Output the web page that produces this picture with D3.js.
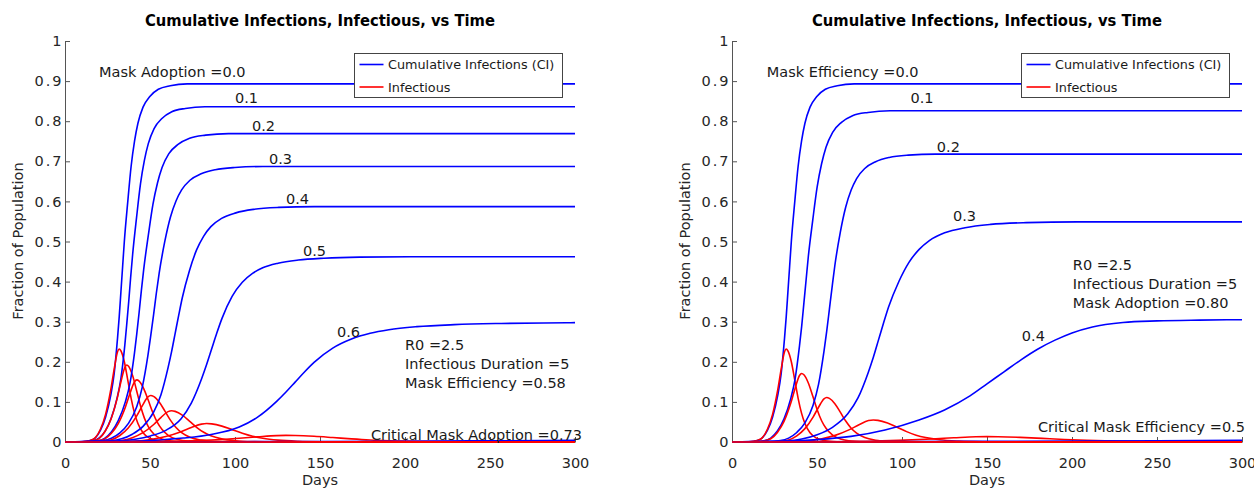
<!DOCTYPE html>
<html>
<head>
<meta charset="utf-8">
<script src="https://cdn.jsdelivr.net/npm/d3@7/dist/d3.min.js"></script>
<style>
  body { margin: 0; background: #fff; }
  svg text { font-family: "DejaVu Sans", sans-serif; }
</style>
</head>
<body>
<div id="chart"></div>
<script>
// ---- data: [day, fraction] ----
var dayTicks = [0, 50, 100, 150, 200, 250, 300];
var fracTicks = [0, 0.1, 0.2, 0.3, 0.4, 0.5, 0.6, 0.7, 0.8, 0.9, 1];

// no masks (same run in both panels)
var noMaskCI = [[0,0],[9.9,0.0009],[14.9,0.0036],[17.9,0.0107],[20.9,0.0295],[23.9,0.0625],[26.9,0.1161],[28.9,0.1697],[30.9,0.259],[31.9,0.3126],[32.9,0.3751],[33.9,0.4376],[34.9,0.5001],[36.9,0.5983],[38.9,0.6876],[40.9,0.7501],[42.9,0.7948],[45.9,0.835],[49.9,0.8617],[54.9,0.8796],[61.9,0.8885],[71.9,0.893],[300,0.893]];
var noMaskInf = [[0,0],[9.9,0.0007],[14.9,0.0039],[17.9,0.0109],[20.9,0.0325],[23.9,0.0696],[26.9,0.13],[28.9,0.181],[30.9,0.225],[31.9,0.232],[32.9,0.227],[34.9,0.2],[36.9,0.155],[38.9,0.109],[40.9,0.072],[42.9,0.046],[45.9,0.023],[49.9,0.0093],[54.9,0.003],[61.9,0.0007],[71.9,0.0001],[300,0]];

// left panel: mask adoption sweep
var adoptionLabels = ['0.0', '0.1', '0.2', '0.3', '0.4', '0.5', '0.6', '0.7'];
var adoptionCI = [
  noMaskCI,
  [[0,0],[11,0.0008],[16.8,0.0033],[20.2,0.01],[23.7,0.0276],[27.1,0.0585],[30.6,0.1087],[32.9,0.1588],[35.2,0.2424],[36.3,0.2926],[37.5,0.3511],[38.6,0.4096],[39.8,0.4682],[42.1,0.5601],[44.4,0.6437],[46.7,0.7022],[49,0.744],[52.4,0.7817],[57,0.8067],[62.8,0.8235],[70.8,0.8318],[82.3,0.836],[300,0.836]],
  [[0,0],[12.5,0.0008],[19.3,0.0031],[23.3,0.0092],[27.4,0.0254],[31.4,0.0538],[35.5,0.1],[38.2,0.1461],[40.9,0.223],[42.2,0.2692],[43.6,0.323],[44.9,0.3768],[46.3,0.4306],[49,0.5152],[51.7,0.5921],[54.4,0.646],[57.1,0.6844],[61.1,0.719],[66.5,0.7421],[73.3,0.7575],[82.7,0.7652],[96.2,0.769],[300,0.769]],
  [[0,0],[14.1,0.001],[22.4,0.0034],[27.3,0.0093],[32.3,0.0227],[37.2,0.0457],[42.2,0.0879],[45.5,0.1374],[48.8,0.2164],[50.4,0.2638],[52.1,0.317],[53.7,0.3703],[55.4,0.4211],[58.7,0.5001],[62,0.5606],[65.3,0.6011],[68.6,0.6286],[73.5,0.6527],[80.1,0.6688],[88.4,0.6791],[99.9,0.6846],[116.4,0.687],[300,0.687]],
  [[0,0],[16.5,0.0009],[27,0.0029],[33.3,0.0079],[39.6,0.0194],[45.9,0.039],[52.2,0.0751],[56.4,0.1174],[60.6,0.1849],[62.7,0.2254],[64.8,0.2709],[66.9,0.3164],[69,0.3598],[73.2,0.4273],[77.4,0.479],[81.6,0.5136],[85.8,0.5371],[92.1,0.5577],[100.5,0.5714],[111,0.5802],[125.7,0.585],[146.7,0.587],[300,0.587]],
  [[0,0],[17.3,0.0009],[32.3,0.0028],[41.3,0.0069],[50.3,0.0152],[59.3,0.0291],[68.3,0.0582],[74.3,0.097],[80.3,0.1571],[83.3,0.1931],[86.3,0.2324],[89.3,0.2717],[92.3,0.3077],[98.3,0.3631],[104.3,0.3982],[110.3,0.4204],[116.3,0.4343],[125.3,0.4458],[137.3,0.4537],[152.3,0.4583],[173.3,0.4611],[203.3,0.462],[300,0.462]],
  [[0,0],[9,0.0006],[36.5,0.0018],[53,0.0045],[69.5,0.0098],[86,0.0188],[102.5,0.0375],[113.5,0.0626],[124.5,0.1013],[130,0.1246],[135.5,0.1499],[141,0.1752],[146.5,0.1985],[157.5,0.2342],[168.5,0.2569],[179.5,0.2712],[190.5,0.2801],[207,0.2876],[229,0.2926],[256.5,0.2956],[295,0.2974],[300,0.2976]],
  [[0,0],[100,0.0008],[200,0.002],[300,0.004]]
];
var adoptionInf = [
  noMaskInf,
  [[0,0],[11,0.0006],[16.7,0.0033],[20.2,0.009],[23.6,0.0269],[27.1,0.0576],[30.6,0.1075],[32.9,0.1498],[35.2,0.1862],[36.3,0.192],[37.5,0.1882],[39.8,0.1651],[42.1,0.1286],[44.4,0.0902],[46.7,0.0595],[49,0.0384],[52.4,0.0192],[57,0.0077],[62.8,0.0025],[70.8,0.0006],[82.3,0.0001],[300,0]],
  [[0,0],[12.5,0.0005],[19.2,0.0026],[23.3,0.0073],[27.3,0.0217],[31.4,0.0465],[35.5,0.0868],[38.2,0.1209],[40.9,0.1504],[42.2,0.155],[43.6,0.1519],[46.3,0.1333],[49,0.1039],[51.7,0.0729],[54.4,0.0481],[57.1,0.031],[61.1,0.0155],[66.5,0.0062],[73.3,0.002],[82.7,0.0005],[96.2,0.0001],[300,0]],
  [[0,0],[14.1,0.0003],[22.4,0.002],[27.3,0.0055],[32.3,0.0162],[37.2,0.0348],[42.2,0.065],[45.5,0.0905],[48.8,0.1125],[50.4,0.116],[52.1,0.1137],[55.4,0.0998],[58.7,0.0777],[62,0.0545],[65.3,0.036],[68.6,0.0232],[73.5,0.0116],[80.1,0.0046],[88.4,0.0015],[99.9,0.0003],[116.4,0.0001],[300,0]],
  [[0,0],[16.5,0.0002],[27,0.0013],[33.3,0.0037],[39.6,0.0109],[45.9,0.0234],[52.2,0.0437],[56.4,0.0608],[60.6,0.0757],[62.7,0.078],[64.8,0.0764],[69,0.0671],[73.2,0.0523],[77.4,0.0367],[81.6,0.0242],[85.8,0.0156],[92.1,0.0078],[100.5,0.0031],[111,0.001],[125.7,0.0002],[146.7,0],[300,0]],
  [[0,0],[17.3,0.0001],[32.3,0.0008],[41.3,0.0022],[50.3,0.0064],[59.3,0.0138],[68.3,0.0258],[74.3,0.0359],[80.3,0.0446],[83.3,0.046],[86.3,0.0451],[92.3,0.0396],[98.3,0.0308],[104.3,0.0216],[110.3,0.0143],[116.3,0.0092],[125.3,0.0046],[137.3,0.0018],[152.3,0.0006],[173.3,0.0001],[203.3,0],[300,0]],
  [[0,0],[36.5,0.0003],[53,0.0008],[69.5,0.0023],[86,0.005],[102.5,0.0092],[113.5,0.0129],[124.5,0.016],[130,0.0165],[135.5,0.0162],[146.5,0.0142],[157.5,0.0111],[168.5,0.0078],[179.5,0.0051],[190.5,0.0033],[207,0.0017],[229,0.0007],[256.5,0.0002],[300,0.00005]],
  [[0,0],[150,0.0002],[300,0.0004]]
];

// right panel: mask efficiency sweep
var efficiencyLabels = ['0.0', '0.1', '0.2', '0.3', '0.4', '0.5'];
var efficiencyCI = [
  noMaskCI,
  [[0,0],[12.4,0.0008],[18.9,0.0033],[22.8,0.0099],[26.7,0.0273],[30.6,0.0578],[34.5,0.1074],[37.1,0.1569],[39.7,0.2395],[41,0.2891],[42.3,0.3469],[43.6,0.4047],[44.9,0.4626],[47.5,0.5534],[50.1,0.636],[52.7,0.6938],[55.3,0.7351],[59.2,0.7723],[64.4,0.7971],[70.9,0.8136],[80,0.8219],[93,0.826],[300,0.826]],
  [[0,0],[20.5,0.0011],[28.5,0.0036],[33.3,0.0097],[38.1,0.0237],[42.9,0.0477],[47.7,0.0919],[50.9,0.1436],[54.1,0.2262],[55.7,0.2757],[57.3,0.3314],[58.9,0.387],[60.5,0.4401],[63.7,0.5227],[66.9,0.5859],[70.1,0.6283],[73.3,0.657],[78.1,0.6821],[84.5,0.699],[92.5,0.7097],[103.7,0.7155],[119.7,0.718],[300,0.718]],
  [[0,0],[17.1,0.0008],[32.1,0.0027],[41.1,0.0074],[50.1,0.0181],[59.1,0.0365],[68.1,0.0703],[74.1,0.1098],[80.1,0.1729],[83.1,0.2108],[86.1,0.2534],[89.1,0.2959],[92.1,0.3365],[98.1,0.3997],[104.1,0.448],[110.1,0.4804],[116.1,0.5023],[125.1,0.5216],[137.1,0.5345],[152.1,0.5427],[173.1,0.5471],[203.1,0.549],[300,0.549]],
  [[0,0],[30,0.002],[50,0.006],[70,0.014],[90,0.03],[110,0.055],[125,0.08],[140,0.115],[150,0.145],[160,0.175],[170,0.205],[180,0.232],[190,0.254],[200,0.272],[212,0.287],[230,0.298],[250,0.302],[275,0.304],[300,0.305]],
  [[0,0],[100,0.001],[200,0.0025],[300,0.004]]
];
var efficiencyInf = [
  noMaskInf,
  [[0,0],[12.4,0.0005],[18.9,0.0029],[22.8,0.008],[26.7,0.0239],[30.6,0.0513],[34.5,0.0958],[37.1,0.1334],[39.7,0.1659],[41,0.171],[42.3,0.1676],[44.9,0.1471],[47.5,0.1146],[50.1,0.0804],[52.7,0.053],[55.3,0.0342],[59.2,0.0171],[64.4,0.0068],[70.9,0.0022],[80,0.0005],[93,0.0001],[300,0]],
  [[0,0],[20.5,0.0003],[28.5,0.0019],[33.3,0.0052],[38.1,0.0155],[42.9,0.0333],[47.7,0.0622],[50.9,0.0866],[54.1,0.1077],[55.7,0.111],[57.3,0.1088],[60.5,0.0955],[63.7,0.0744],[66.9,0.0522],[70.1,0.0344],[73.3,0.0222],[78.1,0.0111],[84.5,0.0044],[92.5,0.0014],[103.7,0.0003],[119.7,0.0001],[300,0]],
  [[0,0],[21.5,0.0002],[35.5,0.0009],[43.9,0.0026],[52.3,0.0077],[60.7,0.0165],[69.1,0.0308],[74.7,0.0429],[80.3,0.0534],[83.1,0.055],[85.9,0.0539],[91.5,0.0473],[97.1,0.0369],[102.7,0.0259],[108.3,0.0171],[113.9,0.011],[122.3,0.0055],[133.5,0.0022],[147.5,0.0007],[167.1,0.0002],[195.1,0],[300,0]],
  [[0,0],[39.5,0.0002],[59,0.0006],[78.5,0.0019],[98,0.0041],[117.5,0.0076],[130.5,0.0105],[143.5,0.0131],[150,0.0135],[156.5,0.0132],[169.5,0.0116],[182.5,0.009],[195.5,0.0063],[208.5,0.0042],[221.5,0.0027],[241,0.0014],[267,0.0005],[300,0.0002]],
  [[0,0],[150,0.0002],[300,0.0003]]
];

var legendLabels = ['Cumulative Infections (CI)', 'Infectious'];
var titleText = 'Cumulative Infections, Infectious, vs Time';

class MaskPanel {
  constructor(svg, opts) {
    this.svg = svg;
    this.opts = opts;
    this.x = d3.scaleLinear().domain([0, 300]).range([opts.left, opts.right]);
    this.y = d3.scaleLinear().domain([0, 1]).range([442, 41]);
  }

  render() {
    var _self = this;
    var o = _self.opts;
    var g = _self.svg.append('g');

    var xAxis = d3.axisBottom(_self.x).tickValues(dayTicks)
      .tickSizeInner(-5).tickSizeOuter(0).tickPadding(15.5)
      .tickFormat(d3.format('d'));
    var yAxis = d3.axisLeft(_self.y).tickValues(fracTicks)
      .tickSizeInner(-5).tickSizeOuter(0).tickPadding(1.5)
      .tickFormat(function (d) { return (d === 0 || d === 1) ? String(d) : d.toFixed(1); });

    var gx = g.append('g').attr('transform', 'translate(0,442)').call(xAxis);
    var gy = g.append('g').attr('transform', 'translate(' + o.left + ',0)').call(yAxis);
    [gx, gy].forEach(function (ax) {
      ax.attr('font-family', null).attr('font-size', null);
      ax.selectAll('path, line').attr('stroke', '#555');
      ax.selectAll('text').attr('fill', '#262626').style('font-size', '14.5px');
    });
    // y labels in the picture run a little wider
    gy.selectAll('text').style('letter-spacing', '2px');

    // curves, CI then infectious for each run
    var line = d3.line()
      .x(function (d) { return _self.x(d[0]); })
      .y(function (d) { return _self.y(d[1]); })
      .curve(d3.curveMonotoneX);
    o.ci.forEach(function (c, i) {
      g.append('path').attr('d', line(c)).attr('fill', 'none')
        .attr('stroke', '#0000ff').attr('stroke-width', 1.6);
      g.append('path').attr('d', line(o.inf[i])).attr('fill', 'none')
        .attr('stroke', '#ff0000').attr('stroke-width', 1.6);
    });

    // annotations
    o.notes.forEach(function (n) {
      g.append('text').attr('x', _self.x(n.day)).attr('y', _self.y(n.val))
        .attr('fill', '#1a1a1a').style('font-size', '14.5px').text(n.text);
    });

    // title + axis labels
    var cx = (o.left + o.right) / 2;
    g.append('text').attr('x', cx).attr('y', 26).attr('text-anchor', 'middle')
      .attr('font-weight', 'bold').style('font-size', '16px')
      .attr('textLength', 350).attr('lengthAdjust', 'spacingAndGlyphs')
      .text(titleText);
    g.append('text').attr('x', cx).attr('y', 485).attr('text-anchor', 'middle')
      .attr('fill', '#262626').style('font-size', '14.5px').text('Days');
    g.append('text').attr('transform', 'translate(' + (o.left - 42) + ',241) rotate(-90)')
      .attr('text-anchor', 'middle').attr('fill', '#262626').style('font-size', '14.5px')
      .text('Fraction of Population');

    // legend
    var lx = o.right - 220.5, ly = 53.5;
    var leg = g.append('g');
    leg.append('rect').attr('x', lx).attr('y', ly).attr('width', 208).attr('height', 44)
      .attr('fill', '#fff').attr('stroke', '#444').attr('stroke-width', 1);
    ['#0000ff', '#ff0000'].forEach(function (col, i) {
      var yy = ly + 11 + i * 22.5;
      leg.append('line').attr('x1', lx + 5).attr('x2', lx + 29).attr('y1', yy).attr('y2', yy)
        .attr('stroke', col).attr('stroke-width', 1.6);
      leg.append('text').attr('x', lx + 33.5).attr('y', yy + 4.5).attr('fill', '#1a1a1a')
        .style('font-size', '12.8px').text(legendLabels[i]);
    });
  }
}

var svg = d3.select('#chart').append('svg').attr('width', 1254).attr('height', 489);

var leftNotes = [
  { text: 'Mask Adoption =' + adoptionLabels[0], day: 20, val: 0.909 },
  { text: adoptionLabels[1], day: 100, val: 0.845 },
  { text: adoptionLabels[2], day: 110, val: 0.776 },
  { text: adoptionLabels[3], day: 120, val: 0.693 },
  { text: adoptionLabels[4], day: 130, val: 0.594 },
  { text: adoptionLabels[5], day: 140, val: 0.464 },
  { text: adoptionLabels[6], day: 160, val: 0.262 },
  { text: 'R0 =2.5', day: 200, val: 0.229 },
  { text: 'Infectious Duration =5', day: 200, val: 0.182 },
  { text: 'Mask Efficiency =0.58', day: 200, val: 0.135 },
  { text: 'Critical Mask Adoption =0.73', day: 180, val: 0.005 }
];
var rightNotes = [
  { text: 'Mask Efficiency =' + efficiencyLabels[0], day: 20.5, val: 0.909 },
  { text: efficiencyLabels[1], day: 105, val: 0.845 },
  { text: efficiencyLabels[2], day: 120.5, val: 0.723 },
  { text: efficiencyLabels[3], day: 130, val: 0.552 },
  { text: efficiencyLabels[4], day: 170.5, val: 0.253 },
  { text: 'R0 =2.5', day: 200.5, val: 0.429 },
  { text: 'Infectious Duration =5', day: 200.5, val: 0.382 },
  { text: 'Mask Adoption =0.80', day: 200.5, val: 0.334 },
  { text: 'Critical Mask Efficiency =0.5', day: 180, val: 0.024 }
];

new MaskPanel(svg, { left: 65, right: 575, ci: adoptionCI, inf: adoptionInf, notes: leftNotes }).render();
new MaskPanel(svg, { left: 732, right: 1242, ci: efficiencyCI, inf: efficiencyInf, notes: rightNotes }).render();
</script>
</body>
</html>
